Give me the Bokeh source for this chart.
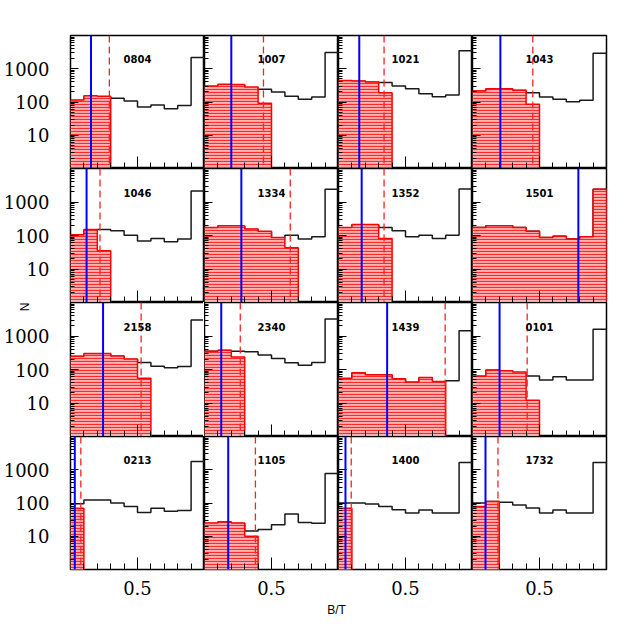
import math
from bokeh.plotting import figure
from bokeh.layouts import gridplot, column
from bokeh.models import FixedTicker, PrintfTickFormatter, Span, Label, Range1d
from bokeh.embed import file_html
from bokeh.resources import INLINE

# ---------------- data ----------------
BIN_EDGES = [0.0, 0.1, 0.2, 0.3, 0.4, 0.5, 0.6, 0.7, 0.8, 0.9, 1.0]

NAMES = ["0804", "1007", "1021", "1043",
         "1046", "1334", "1352", "1501",
         "2158", "2340", "1439", "0101",
         "0213", "1105", "1400", "1732"]

# full-sample histogram (black step), 10 bins of B/T
ALL_0804 = [110, 140, 140, 129, 107, 71, 81, 63, 79, 2180]
ALL_1007 = [290, 320, 320, 270, 240, 200, 148, 120, 142, 3080]
ALL_1021 = [430, 420, 390, 383, 303, 252, 178, 145, 163, 3450]
ALL_1043 = [210, 240, 240, 220, 190, 141, 120, 102, 112, 2940]
ALL_1046 = [100, 145, 151, 138, 102, 69, 81, 65, 78, 2140]
ALL_1334 = [170, 190, 190, 150, 130, 85, 102, 78, 91, 2400]
ALL_1352 = [170, 205, 205, 174, 138, 91, 102, 81, 102, 2450]
ALL_1501 = [174, 195, 195, 174, 135, 87, 95, 78, 91, 2400]
ALL_2158 = [245, 290, 290, 250, 200, 161, 125, 112, 123, 3020]
ALL_2340 = [350, 370, 352, 340, 270, 213, 158, 135, 161, 3230]
ALL_1439 = [53, 78, 68, 68, 52, 41, 56, 43, 46, 1440]
ALL_0101 = [62, 95, 90, 80, 64, 49, 61, 49, 49, 1585]
ALL_0213 = [95, 123, 123, 100, 79, 52, 69, 56, 60, 1780]
ALL_1105 = [24, 26, 24, 14.5, 16, 22, 47, 26, 24.5, 776]
ALL_1400 = [100, 100, 93, 79, 63, 50, 62, 50, 50, 1660]
ALL_1732 = [100, 110, 105, 87, 71, 50, 62, 50, 50, 1660]

# selected sub-sample histogram (red hatched), same bins from B/T = 0
SUB_0804 = [115, 155, 148]
SUB_1007 = [302, 340, 335, 282, 91]
SUB_1021 = [447, 430, 400, 190]
SUB_1043 = [215, 250, 250, 224, 85]
SUB_1046 = [105, 150, 35]
SUB_1334 = [174, 195, 195, 155, 135, 87, 43]
SUB_1352 = [174, 214, 214, 81]
SUB_1501 = [174, 195, 195, 174, 135, 87, 95, 78, 91, 2400]
SUB_2158 = [250, 300, 300, 255, 205, 55]
SUB_2340 = [352, 377, 238]
SUB_1439 = [55, 80, 70, 70, 53, 42, 58, 44]
SUB_0101 = [64, 97, 92, 84, 12]
SUB_0213 = [69]
SUB_1105 = [25, 27.5, 25, 10]
SUB_1400 = [69]
SUB_1732 = [79, 110]

# blue solid marker and red dashed marker (B/T)
BLUE_BT = [0.153, 0.200, 0.155, 0.208,
           0.120, 0.275, 0.173, 0.790,
           0.243, 0.125, 0.363, 0.202,
           0.032, 0.177, 0.052, 0.097]
DASH_BT = [0.290, 0.440, 0.340, 0.450,
           0.220, 0.640, 0.340, None,
           0.527, 0.267, 0.796, 0.408,
           0.077, 0.380, 0.095, 0.190]

ALL_COUNTS = [ALL_0804, ALL_1007, ALL_1021, ALL_1043, ALL_1046, ALL_1334, ALL_1352, ALL_1501,
              ALL_2158, ALL_2340, ALL_1439, ALL_0101, ALL_0213, ALL_1105, ALL_1400, ALL_1732]
SUB_COUNTS = [SUB_0804, SUB_1007, SUB_1021, SUB_1043, SUB_1046, SUB_1334, SUB_1352, SUB_1501,
              SUB_2158, SUB_2340, SUB_1439, SUB_0101, SUB_0213, SUB_1105, SUB_1400, SUB_1732]

X_TICKS = [0.5]
X_MINOR = [0.1, 0.2, 0.3, 0.4, 0.6, 0.7, 0.8, 0.9]
Y_TICKS = [10, 100, 1000]
Y_MINOR = [m * 10 ** k for k in range(4) for m in range(2, 10)]

# ---------------- layout / style ----------------
FRAME_W = 134
ROW_H = [133, 134, 134, 133]
LEFT_B, TOP_B, BOTTOM_B, RIGHT_B = 69, 35, 32, 15
BASE = 0.5
LABEL_X, LABEL_Y = 0.5, 1900


def step_outline(edges, counts, base, close_left):
    xs, ys = ([edges[0]], [base]) if close_left else ([], [])
    for i, c in enumerate(counts):
        xs += [edges[i], edges[i + 1]]
        ys += [c, c]
    xs.append(edges[len(counts)])
    ys.append(base)
    return xs, ys


figs = []
for idx, name in enumerate(NAMES):
    r, c = divmod(idx, 4)
    p = figure(frame_width=FRAME_W, frame_height=ROW_H[r],
               x_range=Range1d(0, 1), y_range=Range1d(1, 10000),
               y_axis_type="log", output_backend="svg", toolbar_location=None,
               min_border_left=LEFT_B if c == 0 else 0,
               min_border_right=RIGHT_B if c == 3 else 0,
               min_border_top=TOP_B if r == 0 else 0,
               min_border_bottom=BOTTOM_B if r == 3 else 0)
    p.grid.visible = False
    p.background_fill_color = "white"
    p.border_fill_color = "white"
    p.outline_line_color = "black"
    p.outline_line_width = 1.5

    # black step (all)
    bx, by = step_outline(BIN_EDGES, ALL_COUNTS[idx], BASE, False)
    p.line(bx, by, line_color="#1a1a1a", line_width=1.5)

    # red hatched (subset)
    sub = SUB_COUNTS[idx]
    px, py = step_outline(BIN_EDGES, sub, BASE, True)
    p.patch(px, py, fill_color="#ffb0b0", line_color=None,
            hatch_pattern="horizontal_line", hatch_color="#ff2a2a",
            hatch_scale=3, hatch_weight=1.2)
    ox, oy = step_outline(BIN_EDGES, sub, BASE, False)
    p.line(ox, oy, line_color="#ff0000", line_width=1.5)

    if DASH_BT[idx] is not None:
        p.add_layout(Span(location=DASH_BT[idx], dimension="height",
                          line_color="#ff2020", line_width=1.3, line_dash="7 4"))
    p.add_layout(Span(location=BLUE_BT[idx], dimension="height",
                      line_color="#0000ff", line_width=2))

    p.add_layout(Label(x=LABEL_X, y=LABEL_Y, text=name, text_align="center",
                       text_baseline="middle", text_font="DejaVu Sans",
                       text_font_style="bold", text_font_size="10px",
                       text_color="black"))

    xa, ya = p.xaxis[0], p.yaxis[0]
    xa.ticker = FixedTicker(ticks=X_TICKS, minor_ticks=X_MINOR)
    ya.ticker = FixedTicker(ticks=Y_TICKS, minor_ticks=Y_MINOR)
    xa.formatter = PrintfTickFormatter(format="%.1f")
    ya.formatter = PrintfTickFormatter(format="%d")
    for ax in (xa, ya):
        ax.axis_line_color = None
        ax.major_tick_out = 0
        ax.minor_tick_out = 0
        ax.major_tick_line_color = "black"
        ax.minor_tick_line_color = "black"
        ax.major_tick_line_width = 1
        ax.minor_tick_line_width = 1
        ax.major_label_text_font = "DejaVu Serif"
        ax.major_label_text_font_size = "18px"
        ax.major_label_text_color = "black"
    xa.major_tick_in = 12
    xa.minor_tick_in = 6
    ya.major_tick_in = 8
    ya.minor_tick_in = 4
    xa.major_label_standoff = 11
    ya.major_label_standoff = 21
    if r != 3:
        xa.major_label_text_color = None
    if c != 0:
        ya.major_label_text_color = None

    if r == 2 and c == 0:
        # shared y-axis title "N", placed just below the top of the third row
        ya.axis_label = "N"
        ya.axis_label_text_font = "Liberation Sans"
        ya.axis_label_text_font_size = "12px"
        ya.axis_label_text_font_style = "normal"
        ya.axis_label_text_color = "black"
        ya.axis_label_orientation = math.pi / 2
        ya.axis_label_standoff = -24
        try:
            ya.axis_label_align = "end"
        except Exception:
            pass
    figs.append(p)

grid = gridplot([figs[i * 4:(i + 1) * 4] for i in range(4)], toolbar_location=None)

total_w = LEFT_B + 4 * FRAME_W + RIGHT_B
bt = figure(width=total_w, height=22, x_range=Range1d(0, total_w), y_range=Range1d(0, 22),
            output_backend="svg", toolbar_location=None,
            min_border=0, x_axis_location=None, y_axis_location=None)
bt.grid.visible = False
bt.outline_line_color = None
bt.add_layout(Label(x=336, y=14, text="B/T", text_align="center", text_baseline="middle",
                    text_font="Liberation Sans", text_font_size="12px", text_color="black"))

layout = column(grid, bt)
open("out.html", "w").write(file_html(layout, INLINE))
